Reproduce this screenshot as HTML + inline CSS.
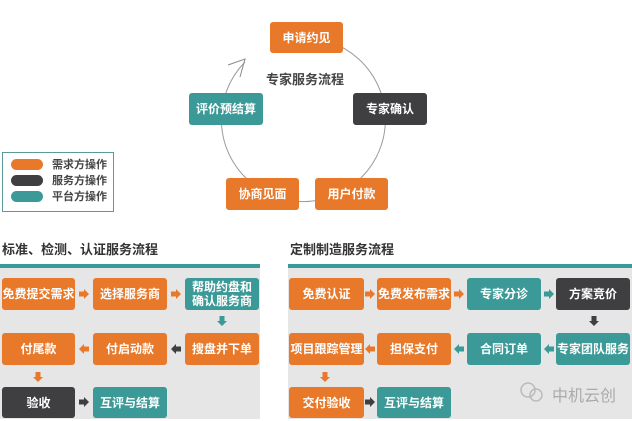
<!DOCTYPE html>
<html><head><meta charset="utf-8"><style>
body{margin:0;width:632px;height:421px;background:#fff;position:relative;overflow:hidden;font-family:"Liberation Sans","Noto Sans CJK SC",sans-serif;}
.b{position:absolute;border-radius:3px;color:#fff;font-weight:bold;font-size:12px;display:flex;align-items:center;justify-content:center;text-align:center;line-height:14px;white-space:nowrap;}
.o{background:#e8792b}.d{background:#3f3f41}.t{background:#3b9a97}
.a{position:absolute}
</style></head><body>
<svg class="a" style="left:0;top:0" width="632" height="421">
<path d="M245 62 A82 82 0 1 0 330 42" fill="none" stroke="#9a9a9a" stroke-width="1"/>
<path d="M228 65 L245 59 L240 77" fill="none" stroke="#8a8a8a" stroke-width="1"/>
<rect x="2.5" y="152.5" width="111" height="59" fill="#fff" stroke="#5a9a9a"/>
<rect x="11" y="159" width="32" height="11" rx="5.5" fill="#e8792b"/>
<rect x="11" y="175" width="32" height="11" rx="5.5" fill="#3f3f41"/>
<rect x="11" y="191" width="32" height="11" rx="5.5" fill="#3b9a97"/>
<rect x="0" y="268" width="260" height="151" fill="#e6e6e6"/>
<rect x="0" y="264" width="260" height="4" fill="#3b9a97"/>
<rect x="288" y="268" width="344" height="151" fill="#e6e6e6"/>
<rect x="288" y="264" width="344" height="4" fill="#3b9a97"/>
<defs>
<path id="ar" d="M-5 -2.5 L0 -2.5 L0 -5 L5 0 L0 5 L0 2.5 L-5 2.5 Z"/>
</defs>
<use href="#ar" transform="translate(84 294)" fill="#e8792b"/>
<use href="#ar" transform="translate(176 294)" fill="#e8792b"/>
<use href="#ar" transform="translate(222 321) rotate(90)" fill="#3b9a97"/>
<use href="#ar" transform="translate(176 349) rotate(180)" fill="#3f3f41"/>
<use href="#ar" transform="translate(84 349) rotate(180)" fill="#e8792b"/>
<use href="#ar" transform="translate(38 377) rotate(90)" fill="#e8792b"/>
<use href="#ar" transform="translate(84 402)" fill="#3f3f41"/>
<use href="#ar" transform="translate(370 294)" fill="#e8792b"/>
<use href="#ar" transform="translate(459 294)" fill="#e8792b"/>
<use href="#ar" transform="translate(549 294)" fill="#3b9a97"/>
<use href="#ar" transform="translate(594 321) rotate(90)" fill="#3f3f41"/>
<use href="#ar" transform="translate(549 349) rotate(180)" fill="#3b9a97"/>
<use href="#ar" transform="translate(459 349) rotate(180)" fill="#3b9a97"/>
<use href="#ar" transform="translate(370 349) rotate(180)" fill="#e8792b"/>
<use href="#ar" transform="translate(325 377) rotate(90)" fill="#e8792b"/>
<use href="#ar" transform="translate(370 402)" fill="#3f3f41"/>
<circle cx="528" cy="390" r="7" fill="none" stroke="#bbb" stroke-width="1.5"/>
<circle cx="536" cy="395" r="6" fill="none" stroke="#bbb" stroke-width="1.5"/>
</svg>
<div class="b o" style="left:270px;top:22px;width:73px;height:31px">申请约见</div>
<div class="b d" style="left:353px;top:93px;width:74px;height:32px">专家确认</div>
<div class="b t" style="left:189px;top:93px;width:74px;height:32px">评价预结算</div>
<div class="b o" style="left:226px;top:178px;width:73px;height:32px">协商见面</div>
<div class="b o" style="left:315px;top:178px;width:73px;height:32px">用户付款</div>
<div class="a" style="left:266px;top:69px;font-size:13px;font-weight:bold;color:#444">专家服务流程</div>
<div class="a" style="left:52px;top:157px;font-size:11px;font-weight:bold;color:#444;line-height:16px">需求方操作<br>服务方操作<br>平台方操作</div>
<div class="a" style="left:2px;top:239px;font-size:13px;font-weight:bold;color:#333">标准、检测、认证服务流程</div>
<div class="a" style="left:290px;top:239px;font-size:13px;font-weight:bold;color:#333">定制制造服务流程</div>

<div class="b o" style="left:2px;top:278px;width:73px;height:32px">免费提交需求</div>
<div class="b o" style="left:93px;top:278px;width:74px;height:32px">选择服务商</div>
<div class="b t" style="left:185px;top:278px;width:74px;height:32px">帮助约盘和<br>确认服务商</div>
<div class="b o" style="left:2px;top:333px;width:73px;height:32px">付尾款</div>
<div class="b o" style="left:93px;top:333px;width:74px;height:32px">付启动款</div>
<div class="b o" style="left:185px;top:333px;width:74px;height:32px">搜盘并下单</div>
<div class="b d" style="left:2px;top:387px;width:73px;height:31px">验收</div>
<div class="b t" style="left:93px;top:387px;width:74px;height:31px">互评与结算</div>

<div class="b o" style="left:289px;top:278px;width:75px;height:32px">免费认证</div>
<div class="b o" style="left:377px;top:278px;width:74px;height:32px">免费发布需求</div>
<div class="b t" style="left:467px;top:278px;width:74px;height:32px">专家分诊</div>
<div class="b d" style="left:556px;top:278px;width:74px;height:32px">方案竞价</div>
<div class="b o" style="left:289px;top:333px;width:75px;height:32px">项目跟踪管理</div>
<div class="b o" style="left:377px;top:333px;width:74px;height:32px">担保支付</div>
<div class="b t" style="left:467px;top:333px;width:74px;height:32px">合同订单</div>
<div class="b t" style="left:556px;top:333px;width:74px;height:32px">专家团队服务</div>
<div class="b o" style="left:289px;top:387px;width:75px;height:31px">交付验收</div>
<div class="b t" style="left:377px;top:387px;width:74px;height:31px">互评与结算</div>
<div class="a" style="left:552px;top:382px;font-size:16px;color:#aaa">中机云创</div>
</body></html>
